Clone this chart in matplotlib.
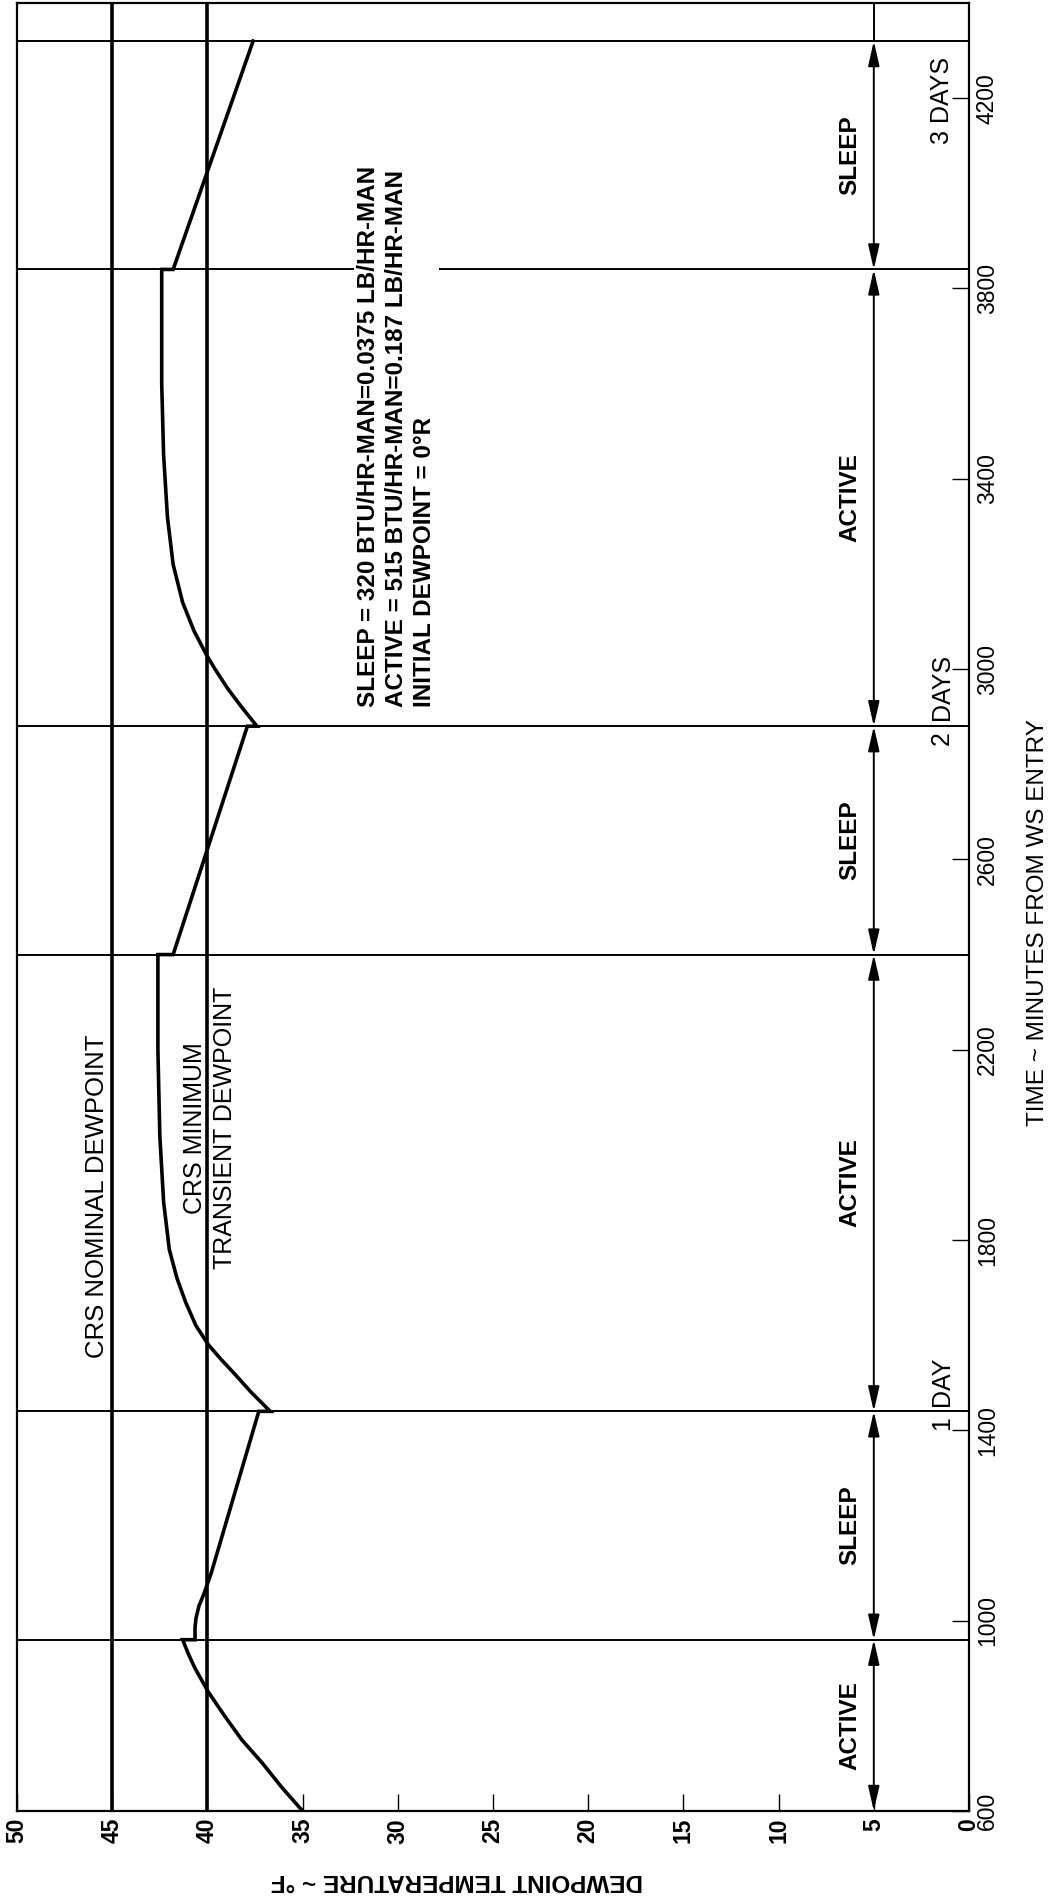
import matplotlib
matplotlib.use("Agg")
import matplotlib.pyplot as plt

plt.rcParams['font.family'] = ['Liberation Sans', 'DejaVu Sans']

# dewpoint history, minutes from entry vs deg F (steps at each mode change)
active1_t = [600, 650, 700, 750, 800, 850, 900, 930, 960]
active1_T = [35.0, 36.1, 37.1, 38.2, 39.1, 39.95, 40.65, 41.0, 41.3]
sleep1_t = [960, 985, 1005, 1030, 1060, 1100, 1440]
sleep1_T = [40.65, 40.65, 40.6, 40.45, 40.15, 39.8, 37.3]
active2_t = [1440, 1480, 1520, 1550, 1580, 1620, 1670, 1720, 1780, 1880, 2020, 2200, 2400]
active2_T = [36.7, 37.7, 38.6, 39.3, 39.95, 40.6, 41.15, 41.6, 42.0, 42.3, 42.5, 42.6, 42.6]
sleep2_t = [2400, 2880]
sleep2_T = [41.8, 37.9]
active3_t = [2880, 2920, 2960, 3000, 3030, 3080, 3140, 3220, 3320, 3450, 3600, 3840]
active3_T = [37.4, 38.2, 38.95, 39.6, 40.05, 40.7, 41.3, 41.8, 42.1, 42.3, 42.4, 42.4]
sleep3_t = [3840, 4320]
sleep3_T = [41.8, 37.6]

nominal_dewpoint = 45
minimum_dewpoint = 40
boundaries = [960, 1440, 2400, 2880, 3840, 4320]
periods = [(600, 960, 'ACTIVE'), (960, 1440, 'SLEEP'), (1440, 2400, 'ACTIVE'),
           (2400, 2880, 'SLEEP'), (2880, 3840, 'ACTIVE'), (3840, 4320, 'SLEEP')]
temp_ticks = [50, 45, 40, 35, 30, 25, 20, 15, 10, 5, 0]
time_ticks = [600, 1000, 1400, 1800, 2200, 2600, 3000, 3400, 3800, 4200]

fig = plt.figure(figsize=(10.58, 18.96), dpi=100)
ax = fig.add_axes([0.01607, 0.04483, 0.89981, 0.95359])
ax.set_xlim(50, 0)
ax.set_ylim(600, 4400)

# curve
t_all = active1_t + sleep1_t + active2_t + sleep2_t + active3_t + sleep3_t
T_all = active1_T + sleep1_T + active2_T + sleep2_T + active3_T + sleep3_T
ax.plot(T_all, t_all, color='black', lw=2.6, solid_joinstyle='miter', zorder=4)

# reference dewpoints
ax.axvline(nominal_dewpoint, color='black', lw=2.6, zorder=3)
ax.axvline(minimum_dewpoint, color='black', lw=2.6, zorder=3)

# mode change lines
for b in boundaries:
    ax.axhline(b, color='black', lw=1.4, zorder=2)

# double arrows along 5 deg F
arrow_x = 5
for t0, t1, name in periods:
    ax.annotate('', xy=(arrow_x, t1), xytext=(arrow_x, t0),
                arrowprops=dict(arrowstyle='<|-|>,head_length=0.75,head_width=0.17',
                                mutation_scale=20, color='black', lw=1.4,
                                shrinkA=0, shrinkB=0), zorder=3)
    ax.text(6.25, (t0 + t1) / 2, name, rotation=90, ha='center', va='center',
            fontsize=17.5, fontweight='bold')
ax.plot([arrow_x, arrow_x], [4320, 4400], color='black', lw=1.4)

# labels
ax.text(45.8, 1893, 'CRS NOMINAL DEWPOINT', rotation=90, ha='center', va='center',
        fontsize=18.5)
ax.text(39.86, 2036, 'CRS MINIMUM\nTRANSIENT DEWPOINT', rotation=90, ha='center',
        va='center', multialignment='center', linespacing=1.3, fontsize=18)
ax.text(30.07, 2921, 'SLEEP = 320 BTU/HR-MAN=0.0375 LB/HR-MAN\n'
                     'ACTIVE = 515 BTU/HR-MAN=0.187 LB/HR-MAN\n'
                     'INITIAL DEWPOINT = 0°R',
        rotation=90, ha='center', va='bottom', multialignment='left',
        linespacing=1.3, fontsize=17.5, fontweight='bold', zorder=5,
        bbox=dict(facecolor='white', edgecolor='none', pad=2))

# day marks
ax.text(1.42, 1430, '1', rotation=90, ha='center', va='top', fontsize=18)
ax.text(1.42, 1452, 'DAY', rotation=90, ha='center', va='bottom', fontsize=18)
ax.text(1.42, 2870, '2', rotation=90, ha='center', va='top', fontsize=18)
ax.text(1.42, 2892, 'DAYS', rotation=90, ha='center', va='bottom', fontsize=18)
ax.text(1.42, 4195, '3 DAYS', rotation=90, ha='center', va='center', fontsize=18)

# axes
ax.set_xticks(temp_ticks)
ax.set_xticklabels([str(v) for v in temp_ticks], rotation=90, fontsize=16.5,
                   fontweight='bold')
ax.yaxis.tick_right()
ax.set_yticks(time_ticks)
ax.set_yticklabels([str(v) for v in time_ticks], rotation=90, va='center',
                   fontsize=16.5)
ax.tick_params(axis='both', direction='in', length=12, width=1.0, pad=5)
for s in ax.spines.values():
    s.set_linewidth(1.6)

fig.text(457 / 1058, 1 - 1880 / 1896, 'DEWPOINT TEMPERATURE ~ °F', rotation=180,
         ha='center', va='center', fontsize=17.5, fontweight='bold')
fig.text(1038 / 1058, 1 - 922 / 1896, 'TIME ~ MINUTES FROM WS ENTRY', rotation=90,
         ha='center', va='center', fontsize=17.5)

fig.savefig('out.png', dpi=100)
